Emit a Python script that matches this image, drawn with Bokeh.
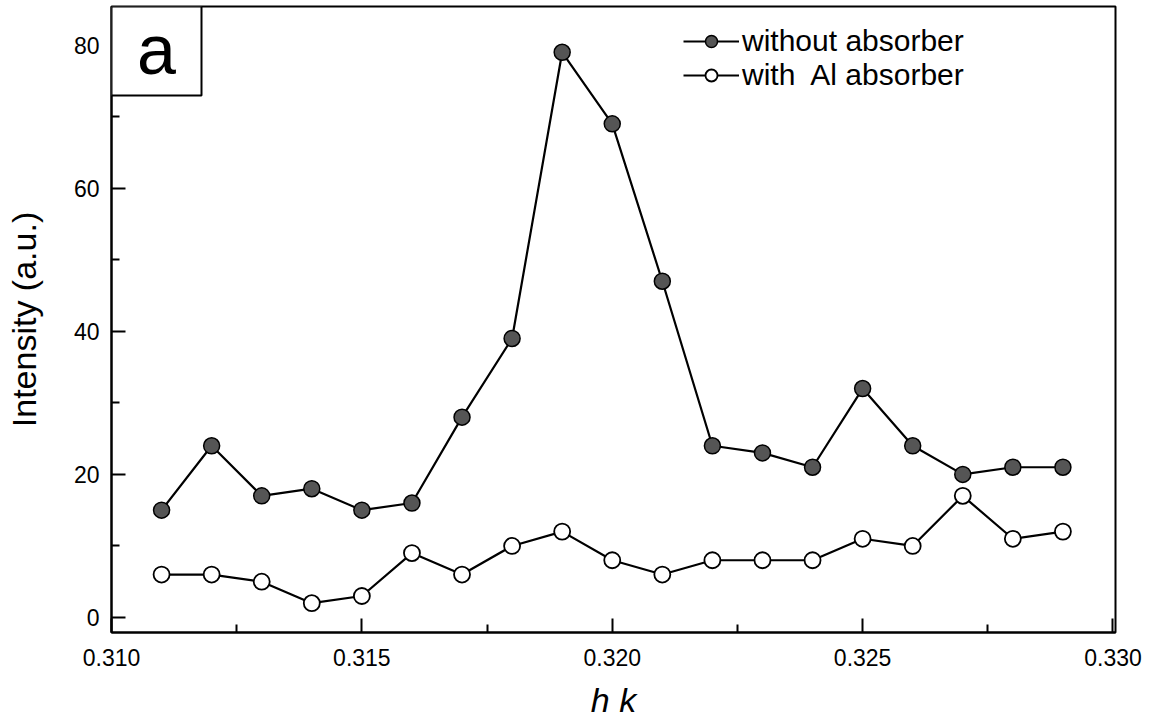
from bokeh.plotting import figure
from bokeh.models import (Range1d, Legend, LegendItem, BoxAnnotation, Label,
                          FixedTicker, NumeralTickFormatter)
from bokeh.embed import file_html
from bokeh.resources import INLINE

# ---- data ----
h_k = [0.311, 0.312, 0.313, 0.314, 0.315, 0.316, 0.317, 0.318, 0.319, 0.320,
       0.321, 0.322, 0.323, 0.324, 0.325, 0.326, 0.327, 0.328, 0.329]
without_absorber = [15, 24, 17, 18, 15, 16, 28, 39, 79, 69,
                    47, 24, 23, 21, 32, 24, 20, 21, 21]
with_al_absorber = [6, 6, 5, 2, 3, 9, 6, 10, 12, 8,
                    6, 8, 8, 8, 11, 10, 17, 11, 12]
x_ticks = [0.310, 0.315, 0.320, 0.325, 0.330]
y_ticks = [0, 20, 40, 60, 80]
series_labels = ["without absorber", "with  Al absorber"]
x_title = "h k"
y_title = "Intensity (a.u.)"
panel_label = "a"

X0, X1 = 0.310, 0.33005
Y0, Y1 = -2.1, 85.4

FONT = "Liberation Sans"

# frame geometry (pixels)
FL, FR, FT, FB = 111, 1115, 6, 632
px_x = (FR - FL) / (X1 - X0)
px_y = (FB - FT) / (Y1 - Y0)

p = figure(width=1152, height=726, output_backend="svg", toolbar_location=None,
           x_range=Range1d(X0, X1), y_range=Range1d(Y0, Y1),
           min_border_left=FL, min_border_right=1152 - FR, min_border_top=FT,
           min_border_bottom=726 - FB, background_fill_color="white",
           border_fill_color="white")

p.xgrid.visible = False
p.ygrid.visible = False
p.outline_line_color = "black"
p.outline_line_width = 2
p.outline_line_alpha = 1

x_minor = [(a + b) / 2 for a, b in zip(x_ticks[:-1], x_ticks[1:])]
y_minor = [(a + b) / 2 for a, b in zip(y_ticks[:-1], y_ticks[1:])]
p.xaxis.ticker = FixedTicker(ticks=x_ticks, minor_ticks=x_minor)
p.yaxis.ticker = FixedTicker(ticks=y_ticks, minor_ticks=y_minor)
p.xaxis.formatter = NumeralTickFormatter(format="0.000")

for ax in (p.xaxis[0], p.yaxis[0]):
    ax.axis_line_width = 2
    ax.axis_line_color = "black"
    ax.major_tick_in = 14
    ax.major_tick_out = 0
    ax.minor_tick_in = 8
    ax.minor_tick_out = 0
    ax.major_tick_line_width = 2
    ax.minor_tick_line_width = 2
    ax.major_label_text_font = FONT
    ax.major_label_text_font_size = "23px"
    ax.major_label_text_color = "black"
    ax.axis_label_text_font = FONT
    ax.axis_label_text_font_size = "34px"
    ax.axis_label_text_color = "black"
    ax.axis_label_text_font_style = "normal"

p.xaxis.major_label_standoff = 16
p.yaxis.major_label_standoff = 12
p.xaxis.axis_label = x_title
p.xaxis.axis_label_text_font_style = "italic"
p.xaxis.axis_label_standoff = 12
p.yaxis.axis_label = y_title
p.yaxis.axis_label_standoff = 28

l1 = p.line(h_k, without_absorber, line_color="black", line_width=2.2)
s1 = p.scatter(h_k, without_absorber, size=16, fill_color="#555555",
               line_color="black", line_width=1.5)
l2 = p.line(h_k, with_al_absorber, line_color="black", line_width=2.2)
s2 = p.scatter(h_k, with_al_absorber, size=16, fill_color="white",
               line_color="black", line_width=1.8)

legend = Legend(items=[LegendItem(label=series_labels[0], renderers=[l1, s1]),
                       LegendItem(label=series_labels[1], renderers=[l2, s2])],
                location=(572, 540), padding=0, margin=0, spacing=0,
                glyph_width=56, glyph_height=30, label_height=30,
                label_standoff=3, border_line_alpha=0,
                background_fill_alpha=0,
                label_text_font=FONT, label_text_font_size="30px",
                label_text_color="black")
p.add_layout(legend, "center")

# panel label box "a"
box_w = 90 / px_x
box_h = 89 / px_y
p.add_layout(BoxAnnotation(left=X0, right=X0 + box_w, top=Y1, bottom=Y1 - box_h,
                           fill_color="white", fill_alpha=1,
                           line_color="black", line_alpha=1, line_width=2))
p.add_layout(Label(x=X0 + box_w / 2, y=Y1 - box_h * 0.49, text=panel_label,
                   text_align="center", text_baseline="middle",
                   text_font=FONT, text_font_size="70px", text_color="black"))

open("out.html", "w").write(file_html(p, INLINE))
